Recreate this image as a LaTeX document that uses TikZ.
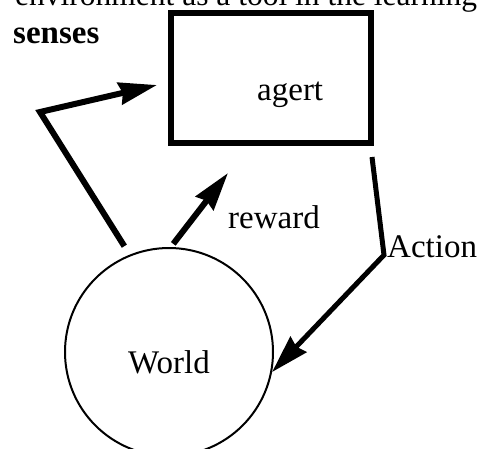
\documentclass[tikz,border=0pt]{standalone}
\usepackage{fontspec}
\setmainfont{Liberation Serif}
\usetikzlibrary{arrows.meta, positioning}
\tikzset{thick arrow/.style={line width=6pt, ->, >={Stealth[length=38pt, width=22pt, inset=3pt]}}, every node/.style={font=\fontsize{33}{38}\selectfont, inner sep=0pt}}

\begin{document}
\begin{tikzpicture}[x=1pt, y=-1pt, agentbox/.style={draw, line width=6pt, minimum width=200pt, minimum height=130pt}, worldcircle/.style={draw, circle, line width=2pt, minimum size=208pt}]
	\useasboundingbox (0,0) rectangle (480,448);
	\clip (0,0) rectangle (480,448);
	% line of text cut off by the top edge
	\node[anchor=base west, font=\fontsize{31.5}{36}\selectfont] (Caption) at (15,5) {environment as a tool in the learning};
	\node[agentbox] (Agent) at (270.5,78) {};
	\node[anchor=base west] (AgentText) at (257,100) {agert};
	\node[worldcircle] (World) at (169,352) {};
	\node[anchor=base west] (WorldText) at (128,373) {World};
	\node[anchor=base west, font=\fontsize{33}{38}\selectfont\bfseries] (Senses) at (13,43) {senses};
	\node[anchor=base west] (Reward) at (228,228) {reward};
	\node[anchor=base west] (Action) at (387,257) {Action};
	\coordinate (SensesBend) at (40,112);
	\coordinate (SensesTip) at (157,85);
	\coordinate (RewardTip) at (228,173);
	\coordinate (ActionStart) at (372,157);
	\coordinate (ActionBend) at (384,255);
	\draw[thick arrow, shorten <=10pt] (World.112) -- (SensesBend) -- (SensesTip);
	\draw[thick arrow, shorten <=4pt] (World.89) -- (RewardTip);
	\draw[thick arrow, line width=5pt] (ActionStart) -- (ActionBend) -- (World.-11);
\end{tikzpicture}
\end{document}
